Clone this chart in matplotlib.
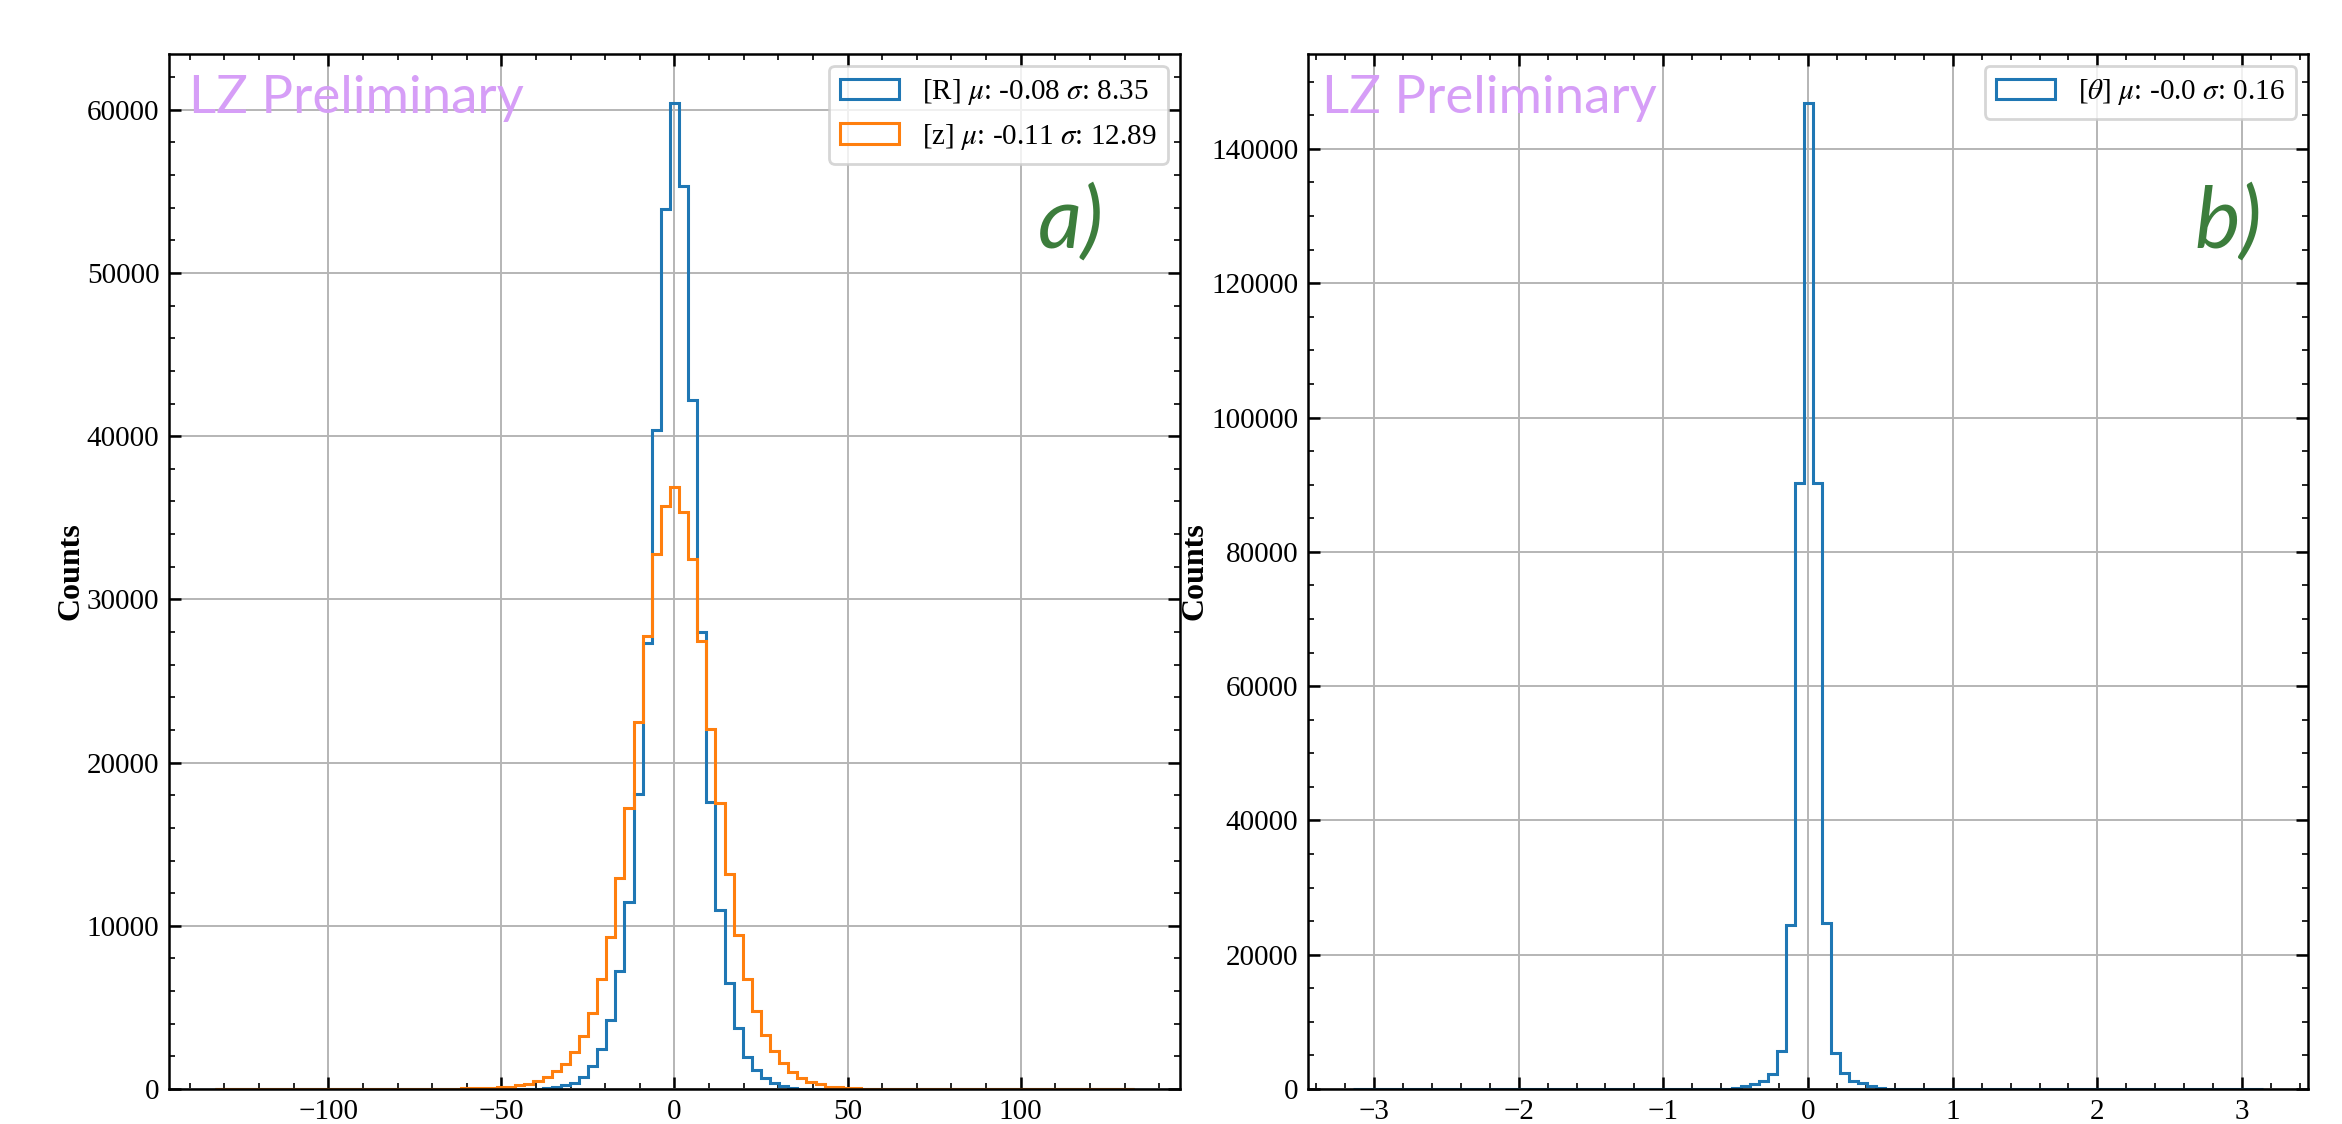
#!/usr/bin/env python3
"""Position reconstruction residuals: R / z (a) and theta (b) histograms."""
import numpy as np
import matplotlib
matplotlib.use("Agg")
import matplotlib.pyplot as plt
from matplotlib.ticker import MultipleLocator

# ---- data (counts per bin) ----
# panel a: 101 bins over [-132.7, 132.7], bin k=0 centred on zero
R_EDGE = 132.7
N_BINS_A = 101
R_first_bin = -15
R_counts = [20, 40, 110, 220, 390, 710, 1400, 2480, 4250, 7260, 11490, 18060,
            27300, 40350, 53900, 60400, 55300, 42200, 28020, 17610, 10990,
            6510, 3710, 1940, 1140, 650, 390, 170, 60, 30]
z_first_bin = -23
z_counts = [40, 50, 60, 80, 100, 130, 220, 320, 500, 730, 1080, 1510, 2280,
            3230, 4680, 6750, 9330, 12930, 17240, 22480, 27750, 32770, 35700,
            36880, 35350, 32500, 27480, 22030, 17500, 13190, 9440, 6750, 4810,
            3340, 2330, 1570, 1030, 650, 430, 320, 130, 110, 60, 40, 30]
label_R = r"[R] $\mu$: -0.08 $\sigma$: 8.35"
label_z = r"[z] $\mu$: -0.11 $\sigma$: 12.89"

# panel b: 101 bins over [-pi, pi]
N_BINS_B = 101
th_first_bin = -11
th_counts = [20, 40, 60, 150, 400, 750, 1150, 2240, 5630, 24400, 90200,
             146800, 90300, 24800, 5370, 2340, 1240, 850, 500, 220, 80, 40]
label_th = r"[$\theta$] $\mu$: -0.0 $\sigma$: 0.16"

plt.rcParams.update({
    "font.family": ["Liberation Serif", "DejaVu Serif"],
    "mathtext.fontset": "stix",
    "font.size": 10.5,
    "axes.linewidth": 0.9,
    "xtick.direction": "in",
    "ytick.direction": "in",
    "xtick.top": True,
    "ytick.right": True,
    "xtick.major.size": 4.2,
    "ytick.major.size": 4.2,
    "xtick.minor.size": 2.0,
    "ytick.minor.size": 2.0,
    "xtick.major.width": 0.9,
    "ytick.major.width": 0.9,
    "xtick.minor.width": 0.6,
    "ytick.minor.width": 0.6,
    "xtick.minor.visible": True,
    "ytick.minor.visible": True,
})

BLUE = "#1f77b4"
ORANGE = "#ff7f0e"
GREEN = "#3c7d3c"
VIOLET = "#d69ef7"


def full_counts(first, counts, n):
    # place the non-empty bins into a full array of n bins centred on 0
    out = np.zeros(n)
    mid = n // 2
    for i, c in enumerate(counts):
        out[mid + first + i] = c
    return out


def decorate(ax, tag, tag_x, lz_x):
    ax.grid(True, color="#b5b5b5", linewidth=0.7)
    ax.set_axisbelow(True)
    ax.set_ylabel("Counts", fontsize=11.5, fontweight="bold", labelpad=0.5)
    ax.text(lz_x, 0.943, "LZ Preliminary", transform=ax.transAxes,
            fontsize=19, color=VIOLET, family=["Lato", "DejaVu Sans"],
            va="baseline", ha="left")
    ax.text(tag_x, 0.813, tag, transform=ax.transAxes, fontsize=31,
            color=GREEN, family=["Lato", "DejaVu Sans"], style="italic",
            va="baseline", ha="left")


fig = plt.figure(figsize=(11.71, 5.62), dpi=200)
ax1 = fig.add_axes([0.0722, 0.0311, 0.4316, 0.9209])
ax2 = fig.add_axes([0.5585, 0.0311, 0.4270, 0.9209])

# ---- panel a ----
edges_a = np.linspace(-R_EDGE, R_EDGE, N_BINS_A + 1)
centers_a = 0.5 * (edges_a[:-1] + edges_a[1:])
hR = full_counts(R_first_bin, R_counts, N_BINS_A)
hz = full_counts(z_first_bin, z_counts, N_BINS_A)
ax1.hist(centers_a, bins=edges_a, weights=hR, histtype="step",
         color=BLUE, linewidth=1.1, label=label_R)
ax1.hist(centers_a, bins=edges_a, weights=hz, histtype="step",
         color=ORANGE, linewidth=1.1, label=label_z)
ax1.xaxis.set_major_locator(MultipleLocator(50))
ax1.xaxis.set_minor_locator(MultipleLocator(10))
ax1.yaxis.set_major_locator(MultipleLocator(10000))
ax1.yaxis.set_minor_locator(MultipleLocator(2000))
ax1.legend(loc="upper right", borderaxespad=0.4)
decorate(ax1, "a)", 0.859, 0.02)

# ---- panel b ----
edges_b = np.linspace(-np.pi, np.pi, N_BINS_B + 1)
centers_b = 0.5 * (edges_b[:-1] + edges_b[1:])
hth = full_counts(th_first_bin, th_counts, N_BINS_B)
ax2.hist(centers_b, bins=edges_b, weights=hth, histtype="step",
         color=BLUE, linewidth=1.1, label=label_th)
ax2.xaxis.set_major_locator(MultipleLocator(1))
ax2.xaxis.set_minor_locator(MultipleLocator(0.2))
ax2.yaxis.set_major_locator(MultipleLocator(20000))
ax2.yaxis.set_minor_locator(MultipleLocator(5000))
ax2.legend(loc="upper right", borderaxespad=0.4)
decorate(ax2, "b)", 0.886, 0.014)

fig.savefig("out.png", dpi=200)
